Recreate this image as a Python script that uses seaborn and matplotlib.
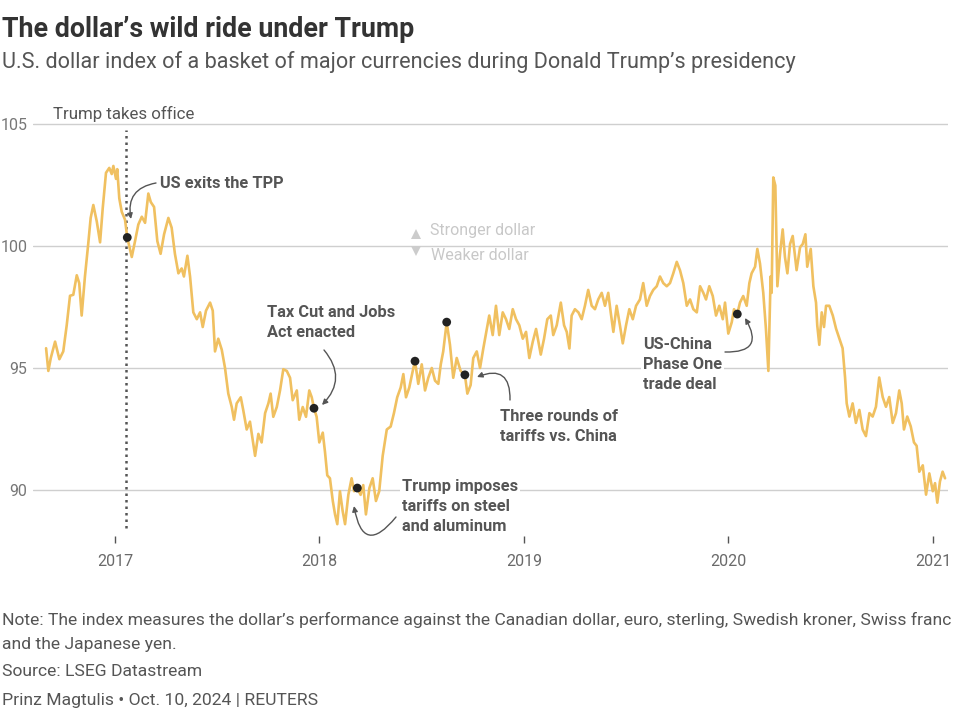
import matplotlib
matplotlib.use("Agg")
import matplotlib.pyplot as plt
import seaborn as sns
import pandas as pd
from matplotlib import font_manager

# ---------------- data ----------------
years = [2016.663, 2016.674, 2016.686, 2016.707, 2016.728, 2016.747, 2016.764, 2016.780, 2016.796, 2016.813,
         2016.825, 2016.837, 2016.853, 2016.869, 2016.881, 2016.894, 2016.911, 2016.927, 2016.940, 2016.956,
         2016.972, 2016.984, 2016.992, 2017.005, 2017.011, 2017.021, 2017.033, 2017.049, 2017.060, 2017.082,
         2017.098, 2017.114, 2017.131, 2017.147, 2017.163, 2017.175, 2017.191, 2017.207, 2017.223, 2017.240,
         2017.261, 2017.277, 2017.293, 2017.310, 2017.326, 2017.337, 2017.354, 2017.367, 2017.383, 2017.400,
         2017.416, 2017.429, 2017.445, 2017.465, 2017.478, 2017.489, 2017.505, 2017.522, 2017.538, 2017.554,
         2017.571, 2017.582, 2017.595, 2017.615, 2017.627, 2017.644, 2017.660, 2017.673, 2017.685, 2017.701,
         2017.717, 2017.734, 2017.750, 2017.761, 2017.774, 2017.791, 2017.807, 2017.823, 2017.840, 2017.856,
         2017.869, 2017.889, 2017.901, 2017.918, 2017.934, 2017.950, 2017.962, 2017.973, 2017.986, 2017.999,
         2018.016, 2018.027, 2018.038, 2018.051, 2018.065, 2018.076, 2018.087, 2018.100, 2018.113, 2018.125,
         2018.141, 2018.157, 2018.169, 2018.185, 2018.201, 2018.214, 2018.227, 2018.244, 2018.260, 2018.276,
         2018.292, 2018.309, 2018.329, 2018.348, 2018.364, 2018.380, 2018.397, 2018.410, 2018.423, 2018.439,
         2018.456, 2018.467, 2018.483, 2018.500, 2018.516, 2018.532, 2018.549, 2018.565, 2018.581, 2018.593,
         2018.605, 2018.622, 2018.638, 2018.654, 2018.671, 2018.690, 2018.711, 2018.723, 2018.739, 2018.752,
         2018.769, 2018.785, 2018.801, 2018.818, 2018.830, 2018.847, 2018.863, 2018.879, 2018.896, 2018.912,
         2018.928, 2018.945, 2018.961, 2018.977, 2018.994, 2019.010, 2019.026, 2019.043, 2019.059, 2019.082,
         2019.098, 2019.114, 2019.131, 2019.143, 2019.160, 2019.180, 2019.196, 2019.209, 2019.222, 2019.233,
         2019.249, 2019.266, 2019.282, 2019.298, 2019.314, 2019.331, 2019.347, 2019.363, 2019.380, 2019.396,
         2019.412, 2019.424, 2019.437, 2019.453, 2019.469, 2019.483, 2019.499, 2019.515, 2019.532, 2019.548,
         2019.567, 2019.583, 2019.600, 2019.616, 2019.632, 2019.649, 2019.665, 2019.681, 2019.698, 2019.714,
         2019.730, 2019.747, 2019.763, 2019.779, 2019.796, 2019.812, 2019.828, 2019.845, 2019.861, 2019.877,
         2019.890, 2019.906, 2019.923, 2019.939, 2019.955, 2019.972, 2019.983, 2019.999, 2020.016, 2020.027,
         2020.043, 2020.056, 2020.072, 2020.089, 2020.102, 2020.113, 2020.130, 2020.141, 2020.154, 2020.170,
         2020.183, 2020.195, 2020.206, 2020.211, 2020.219, 2020.229, 2020.239, 2020.252, 2020.265, 2020.276,
         2020.288, 2020.301, 2020.314, 2020.333, 2020.350, 2020.363, 2020.376, 2020.385, 2020.402, 2020.415,
         2020.428, 2020.434, 2020.444, 2020.456, 2020.467, 2020.477, 2020.493, 2020.510, 2020.526, 2020.542,
         2020.558, 2020.570, 2020.578, 2020.591, 2020.607, 2020.623, 2020.640, 2020.656, 2020.672, 2020.689,
         2020.705, 2020.721, 2020.737, 2020.754, 2020.770, 2020.786, 2020.803, 2020.819, 2020.835, 2020.847,
         2020.858, 2020.874, 2020.891, 2020.907, 2020.920, 2020.933, 2020.950, 2020.966, 2020.982, 2020.999,
         2021.010, 2021.021, 2021.034, 2021.047, 2021.059]
values = [95.81, 94.88, 95.41, 96.08, 95.36, 95.68, 96.76, 97.96, 98.00, 98.80,
          98.48, 97.15, 98.75, 100.08, 101.15, 101.68, 101.00, 100.15, 101.55, 103.00,
          103.20, 102.95, 103.28, 102.75, 103.15, 101.95, 101.40, 101.08, 100.35, 99.55,
          100.20, 100.88, 101.20, 100.95, 102.15, 101.80, 101.60, 100.20, 99.68, 100.48,
          101.15, 100.75, 99.68, 98.88, 99.08, 98.75, 99.60, 98.75, 97.28, 97.00,
          97.28, 96.68, 97.35, 97.68, 97.35, 95.68, 96.20, 95.75, 95.00, 93.95,
          93.40, 92.88, 93.55, 93.80, 93.28, 92.48, 92.80, 92.08, 91.40, 92.30,
          91.95, 93.15, 93.55, 93.95, 93.00, 93.40, 94.08, 94.95, 94.88, 94.60,
          93.68, 94.08, 92.88, 93.40, 93.00, 94.08, 93.80, 93.35, 93.00, 91.95,
          92.35, 91.55, 90.60, 90.48, 89.55, 89.00, 88.60, 89.95, 89.15, 88.60,
          89.80, 90.48, 89.95, 90.08, 89.80, 90.20, 89.00, 90.08, 90.48, 89.55,
          89.95, 91.40, 92.48, 92.60, 93.15, 93.80, 94.20, 94.75, 93.80, 94.20,
          94.88, 95.28, 94.35, 95.15, 94.08, 94.60, 95.00, 94.48, 94.35, 95.15,
          95.68, 96.88, 95.95, 94.60, 95.41, 94.88, 94.72, 93.95, 94.30, 95.41,
          95.68, 95.00, 95.80, 96.60, 97.15, 96.35, 97.55, 96.35, 97.28, 97.00,
          96.60, 97.41, 97.00, 96.75, 96.20, 96.48, 95.41, 96.08, 96.60, 95.55,
          96.20, 97.00, 97.15, 96.35, 96.75, 97.68, 96.75, 96.48, 95.80, 97.15,
          97.41, 97.28, 97.00, 97.55, 98.20, 97.55, 97.41, 97.81, 98.08, 97.55,
          98.08, 97.28, 96.48, 97.55, 96.75, 96.01, 96.75, 97.41, 97.00, 97.55,
          97.81, 98.48, 97.55, 97.95, 98.20, 98.35, 98.75, 98.48, 98.35, 98.48,
          98.88, 99.35, 99.00, 98.48, 97.55, 97.81, 97.41, 97.28, 98.35, 98.08,
          97.81, 98.35, 97.95, 97.15, 97.55, 97.00, 97.68, 96.41, 96.88, 97.41,
          97.21, 97.68, 97.95, 97.55, 98.48, 98.88, 99.15, 99.88, 99.28, 98.08,
          96.61, 94.88, 98.75, 98.08, 102.81, 102.48, 98.35, 99.68, 100.68, 99.55,
          98.88, 100.08, 100.41, 99.01, 99.95, 100.08, 100.48, 99.15, 99.88, 98.35,
          97.68, 96.75, 95.95, 97.28, 96.68, 97.55, 97.55, 97.15, 96.61, 96.21,
          95.81, 94.61, 93.55, 93.01, 93.55, 92.75, 93.28, 92.48, 92.21, 93.15,
          93.01, 93.41, 94.61, 93.81, 93.41, 93.81, 92.75, 93.15, 94.08, 93.55,
          92.48, 93.01, 92.61, 91.95, 91.81, 90.75, 91.01, 89.81, 90.68, 89.95,
          90.28, 89.48, 90.35, 90.75, 90.48]

event_dates = [2017.060, 2017.973, 2018.185, 2018.467, 2018.622, 2018.711, 2020.043]
event_values = [100.35, 93.35, 90.08, 95.28, 96.88, 94.72, 97.21]
event_labels = ["US exits the TPP",
                "Tax Cut and Jobs\nAct enacted",
                "Trump imposes\ntariffs on steel\nand aluminum",
                "Three rounds of\ntariffs vs. China",
                "US-China\nPhase One\ntrade deal"]
year_ticks = [2017, 2018, 2019, 2020, 2021]
y_ticks = [90, 95, 100, 105]
inauguration = 2017.055

title = "The dollar\u2019s wild ride under Trump"
subtitle = "U.S. dollar index of a basket of major currencies during Donald Trump\u2019s presidency"
note1 = ("Note: The index measures the dollar\u2019s performance against the Canadian dollar, euro, "
         "sterling, Swedish kroner, Swiss franc")
note2 = "and the Japanese yen."
source = "Source: LSEG Datastream"
byline = "Prinz Magtulis \u2022 Oct. 10, 2024 | REUTERS"

# ---------------- style ----------------
sns.set_theme(style="white")
avail = {f.name for f in font_manager.fontManager.ttflist}
FONT = "Roboto" if "Roboto" in avail else "DejaVu Sans"
plt.rcParams["font.family"] = [FONT, "DejaVu Sans"]

W, H = 960, 712
fig = plt.figure(figsize=(W / 100, H / 100), dpi=100)
fig.patch.set_facecolor("white")


def P(x, y):
    """reference pixel -> data coordinates (for annotation placement)"""
    return (2017 + (x - 115) / 204.5, 97.5 - (y - 307) / 24.4)


ax = fig.add_axes([33 / W, 1 - 536 / H, (948 - 33) / W, (536 - 115) / H])
ax.set_facecolor("white")

df = pd.DataFrame({"date": years, "index": values})
sns.lineplot(data=df, x="date", y="index", ax=ax, color="#f0c060", linewidth=1.9, zorder=3)
ev = pd.DataFrame({"date": event_dates, "index": event_values})
sns.scatterplot(data=ev, x="date", y="index", ax=ax, color="#222222", s=40, edgecolor="none", zorder=5)

ax.set_xlim(P(33, 0)[0], P(948, 0)[0])
ax.set_ylim(P(0, 536)[1], P(0, 115)[1])
for s in ax.spines.values():
    s.set_visible(False)
ax.set_xlabel("")
ax.set_ylabel("")

ax.set_yticks(y_ticks)
ax.set_yticklabels([str(v) for v in y_ticks])
ax.yaxis.grid(True, color="#cfcfcf", linewidth=1)
ax.xaxis.grid(False)
ax.set_axisbelow(True)
ax.tick_params(axis="y", left=False, length=0, pad=4, labelsize=11.5, labelcolor="#777777")

ax.set_xticks(year_ticks)
ax.set_xticklabels([str(v) for v in year_ticks])
ax.tick_params(axis="x", bottom=True, length=5, width=1, color="#555555", direction="out",
               pad=8, labelsize=11.5, labelcolor="#6a6a6a")

# inauguration line
ax.vlines(inauguration, P(0, 528)[1], P(0, 130)[1], colors="#555555", linewidth=1.8,
          linestyles=(0, (1, 1.6)), zorder=2)
ax.text(*P(53, 114), "Trump takes office", ha="left", va="center", fontsize=12.2,
        color="#555555")

# stronger / weaker
ax.text(*P(430, 231), "Stronger dollar", ha="left", va="center", fontsize=11.5, color="#c8c8c8")
ax.text(*P(431, 256), "Weaker dollar", ha="left", va="center", fontsize=11.5, color="#c8c8c8")
ax.plot(*P(416, 234), marker="^", markersize=7, color="#cccccc", markeredgewidth=0)
ax.plot(*P(416, 251), marker="v", markersize=7, color="#cccccc", markeredgewidth=0)

# annotations
ann_kw = dict(fontsize=11.8, fontweight="bold", color="#555555", ha="left", va="center",
              linespacing=1.42, zorder=6,
              bbox=dict(facecolor="white", edgecolor="none", pad=1.5))
label_pos = [(160, 183), (267, 322.5), (402, 506.5), (500, 426.5), (643, 364.5)]
for lab, (lx, ly) in zip(event_labels, label_pos):
    ax.text(*P(lx, ly), lab, **ann_kw)

arrows = [((156, 183), (131, 219), 0.5),
          ((324, 350), (322, 405), -0.45),
          ((396, 517), (354, 506), -1.1),
          ((510, 400), (477, 377), 0.75),
          ((725, 352), (745, 318), 0.9)]
for (sx, sy), (ex, ey), rad in arrows:
    ax.annotate("", xy=P(ex, ey), xytext=P(sx, sy),
                arrowprops=dict(arrowstyle="-|>", color="#555555", lw=1.0, mutation_scale=8,
                                shrinkA=0, shrinkB=0,
                                connectionstyle=f"arc3,rad={rad}"), zorder=6)

# titles and footer
fig.text(2 / W, 1 - 37 / H, title, ha="left", va="baseline", fontsize=19.3, fontweight="bold",
         color="#333333")
fig.text(2 / W, 1 - 68 / H, subtitle, ha="left", va="baseline", fontsize=15.6,
         color="#555555")
foot_kw = dict(ha="left", va="center", fontsize=12.6, color="#555555")
fig.text(2 / W, 1 - 620 / H, note1, **foot_kw)
fig.text(2 / W, 1 - 645 / H, note2, **foot_kw)
fig.text(2 / W, 1 - 672 / H, source, **foot_kw)
fig.text(2 / W, 1 - 701 / H, byline, **foot_kw)

fig.savefig("out.png", dpi=100, facecolor="white")
